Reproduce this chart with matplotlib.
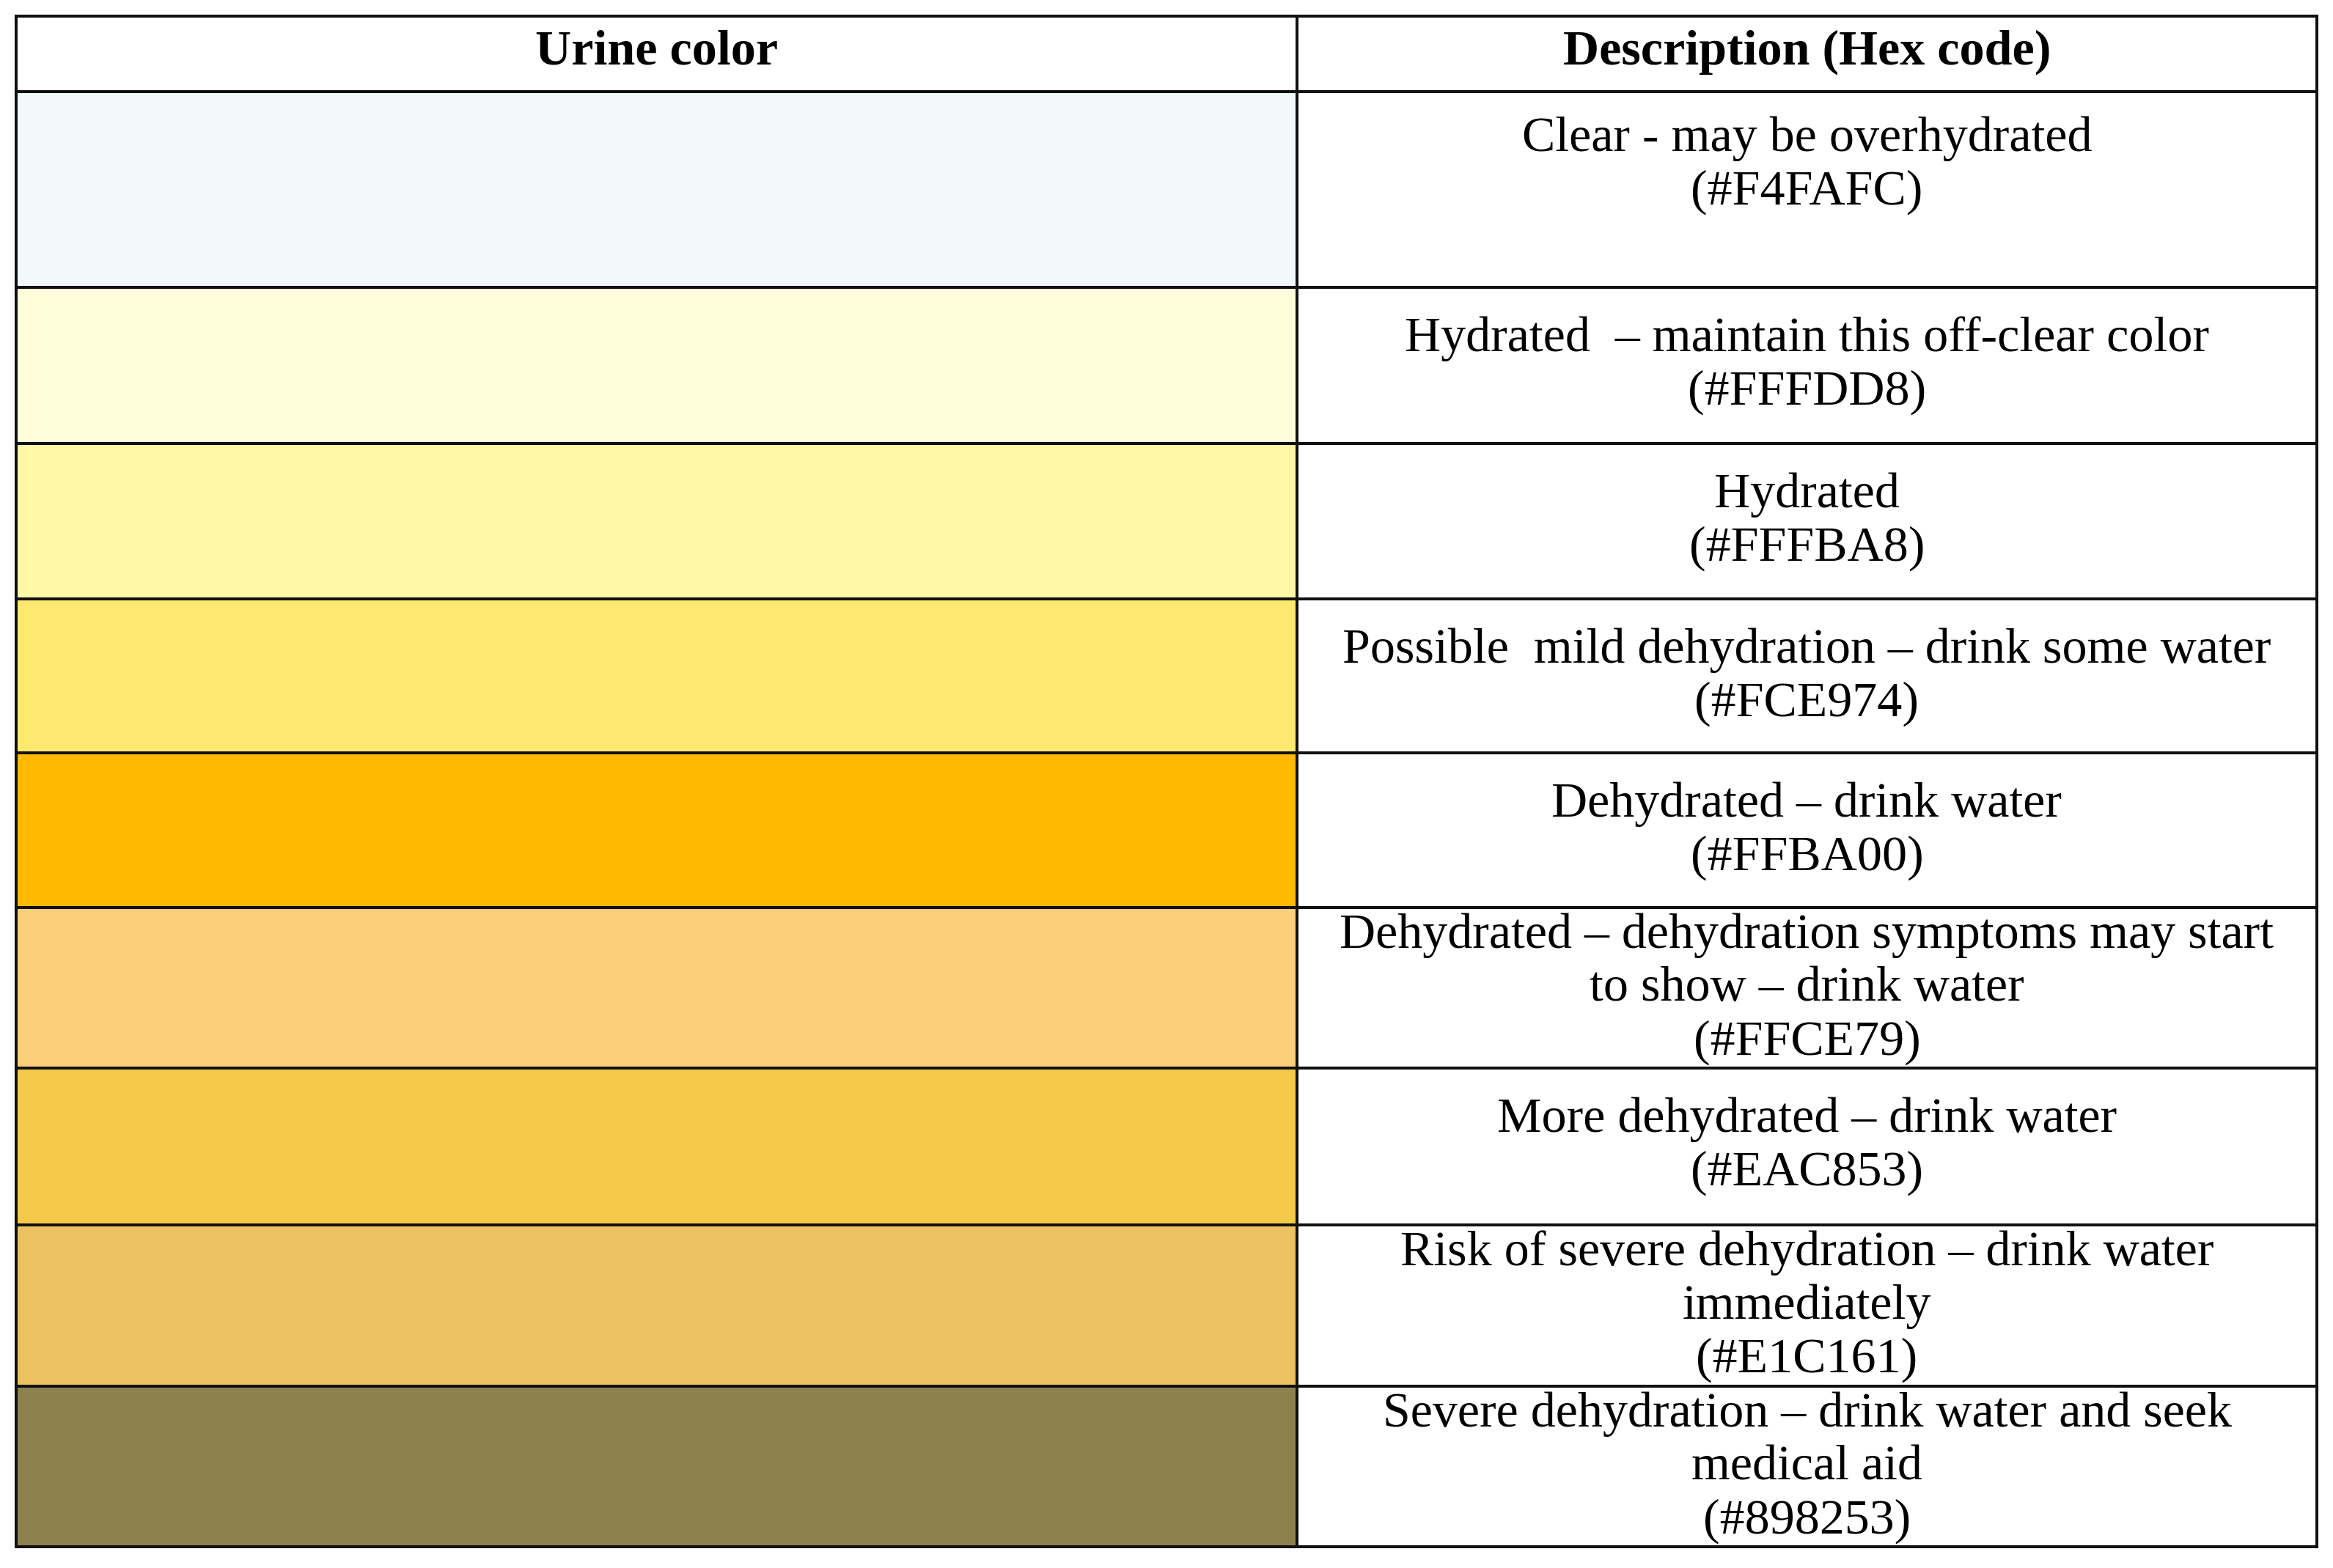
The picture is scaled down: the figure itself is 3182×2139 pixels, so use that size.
import matplotlib
matplotlib.use("Agg")
import matplotlib.pyplot as plt
from matplotlib.patches import Rectangle

# ---- data ----
header = ["Urine color", "Description (Hex code)"]
hex_codes = ["#F4FAFC", "#FFFDD8", "#FFFBA8", "#FCE974", "#FFBA00",
             "#FFCE79", "#EAC853", "#E1C161", "#898253"]
# swatch fill colours as they appear in the picture
swatch_colors = ["#F3F9FB", "#FFFCD9", "#FFF9A6", "#FFE870", "#FFBA00",
                 "#FECF7A", "#F5C94A", "#ECC15F", "#8C824F"]
descriptions = [
    "Clear - may be overhydrated",
    "Hydrated  – maintain this off-clear color",
    "Hydrated",
    "Possible  mild dehydration – drink some water",
    "Dehydrated – drink water",
    "Dehydrated – dehydration symptoms may start\nto show – drink water",
    "More dehydrated – drink water",
    "Risk of severe dehydration – drink water\nimmediately",
    "Severe dehydration – drink water and seek\nmedical aid",
]

# ---- layout (pixels) ----
W, H = 3182, 2139
x_left, x_mid, x_right = 22, 1769, 3160
row_edges = [22, 125, 392, 605, 817, 1027, 1238, 1457, 1671, 1891, 2110]
line_step = 73
font = ["Liberation Serif", "DejaVu Serif"]
fs = 49

fig = plt.figure(figsize=(W / 100, H / 100), dpi=100)
ax = fig.add_axes([0, 0, 1, 1])
ax.set_xlim(0, W)
ax.set_ylim(H, 0)
ax.axis("off")

# color swatches
for i, c in enumerate(swatch_colors):
    top, bot = row_edges[i + 1], row_edges[i + 2]
    ax.add_patch(Rectangle((x_left, top), x_mid - x_left, bot - top,
                           facecolor=c, edgecolor="none", zorder=1))

# grid lines
lw = 2.9
for y in row_edges:
    ax.plot([x_left, x_right], [y, y], color="#111111", lw=lw, zorder=3,
            solid_capstyle="projecting")
for x in (x_left, x_mid, x_right):
    ax.plot([x, x], [row_edges[0], row_edges[-1]], color="#111111", lw=lw,
            zorder=3, solid_capstyle="projecting")

# header
cx_l = (x_left + x_mid) / 2
cx_r = (x_mid + x_right) / 2
hy = (row_edges[0] + row_edges[1]) / 2
ax.text(cx_l, hy - 2, header[0], ha="center", va="center", fontsize=fs,
        fontweight="bold", family=font)
ax.text(cx_r, hy - 2, header[1], ha="center", va="center", fontsize=fs,
        fontweight="bold", family=font)

# descriptions
for i, (d, h) in enumerate(zip(descriptions, hex_codes)):
    lines = d.split("\n") + ["(" + h + ")"]
    top = row_edges[i + 1]
    pad = 38 if len(lines) == 3 else (64 if i == 0 else 70)
    for k, ln in enumerate(lines):
        ax.text(cx_r, top + pad + k * line_step, ln, ha="center",
                va="center", fontsize=fs, family=font)

fig.savefig("out.png", dpi=100, facecolor="white")
